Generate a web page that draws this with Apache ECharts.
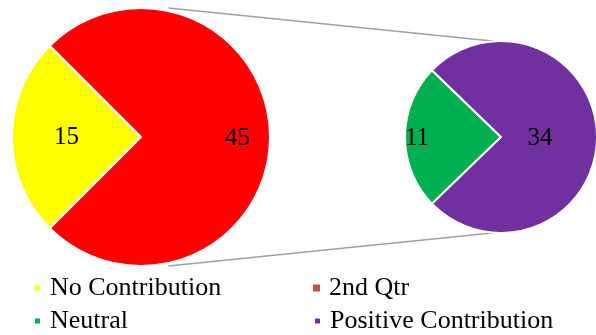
<!DOCTYPE html>
<html>
<head>
<meta charset="utf-8">
<script src="https://cdn.jsdelivr.net/npm/echarts@6/dist/echarts.min.js"></script>
<style>
  html, body { margin: 0; padding: 0; background: #fff; }
  #chart { width: 596px; height: 335px; }
</style>
</head>
<body>
<div id="chart"></div>
<script>
// categories and values (2nd Qtr is empty in the source sheet)
const categories = ['No Contribution', '2nd Qtr', 'Neutral', 'Positive Contribution']
const values = [15, 0, 11, 34]
const otherName = 'Other'
// which categories go into the second (split-off) pie
const splitCategories = ['Neutral', 'Positive Contribution']

const colors = {
  'No Contribution': '#ffff00',
  '2nd Qtr': '#c0504d',
  'Neutral': '#00b050',
  'Positive Contribution': '#7030a0',
  'Other': '#ff0000'
}
// nudge data labels to where excel put them
const labelShift = {
  'No Contribution': [-7, 0],
  'Other': [29, 1],
  'Neutral': [-33, 1],
  'Positive Contribution': [-12, 1]
}

const FONT = 'Liberation Serif'
const leftPie = { cx: 141, cy: 137, r: 129 }
const rightPie = { cx: 501, cy: 137, r: 96 }

const val = name => values[categories.indexOf(name)]
const otherValue = splitCategories.reduce((s, n) => s + val(n), 0)
const mainNames = categories.filter(n => splitCategories.indexOf(n) < 0 && val(n) > 0)
const emptyNames = categories.filter(n => splitCategories.indexOf(n) < 0 && val(n) === 0)

function item (name, value) {
  const sh = labelShift[name] || [0, 0]
  return {
    name: name,
    value: value,
    itemStyle: { color: colors[name], borderWidth: value ? 2 : 0 },
    label: { show: value > 0, offset: sh }
  }
}

const leftData = mainNames.map(n => item(n, val(n)))
  .concat([item(otherName, otherValue)])
  .concat(emptyNames.map(n => item(n, 0)))
const rightData = splitCategories.map(n => item(n, val(n)))

const leftTotal = mainNames.reduce((s, n) => s + val(n), 0) + otherValue
const leftStart = 180 + mainNames.reduce((s, n) => s + val(n), 0) / leftTotal * 180
const rightStart = 180 + val(splitCategories[0]) / otherValue * 180

function pieSeries (p, data, start) {
  return {
    type: 'pie',
    center: [p.cx, p.cy],
    radius: p.r,
    startAngle: start,
    clockwise: true,
    avoidLabelOverlap: false,
    data: data,
    itemStyle: { borderColor: '#fff', borderWidth: 2 },
    label: {
      position: 'inside',
      formatter: '{c}',
      color: '#000',
      fontFamily: FONT,
      fontSize: 25
    },
    labelLine: { show: false },
    emphasis: { disabled: true }
  }
}

// connector lines between the two pies
function edge (p, deg, extra) {
  const a = deg * Math.PI / 180
  return [p.cx + (p.r + extra) * Math.cos(a), p.cy - (p.r + extra) * Math.sin(a)]
}
const topA = edge(leftPie, 78, 3)
const topB = edge(rightPie, 94, 0)
const botA = edge(leftPie, -78, 3)
const botB = edge(rightPie, -94, 0)
const lineStyle = { stroke: '#a0a0a0', lineWidth: 1.5 }

// legend: 2 columns x 2 rows, one legend per cell
const legendCols = [33, 313]
const legendRows = [273, 306]
function legendCell (name, i) {
  return {
    left: legendCols[i % 2],
    top: legendRows[Math.floor(i / 2)],
    data: [name],
    icon: 'rect',
    itemWidth: 7,
    itemHeight: 7,
    selectedMode: false,
    padding: 0,
    textStyle: {
      fontFamily: FONT,
      fontSize: 26,
      lineHeight: 30,
      color: '#000',
      padding: [0, 0, 0, 4]
    }
  }
}

const chart = echarts.init(document.getElementById('chart'))
chart.setOption({
  animation: false,
  backgroundColor: '#fff',
  legend: categories.map(legendCell),
  graphic: [
    { type: 'line', shape: { x1: topA[0], y1: topA[1], x2: topB[0], y2: topB[1] }, style: lineStyle, z: 0 },
    { type: 'line', shape: { x1: botA[0], y1: botA[1], x2: botB[0], y2: botB[1] }, style: lineStyle, z: 0 }
  ],
  series: [
    pieSeries(leftPie, leftData, leftStart),
    pieSeries(rightPie, rightData, rightStart)
  ]
})
</script>
</body>
</html>
